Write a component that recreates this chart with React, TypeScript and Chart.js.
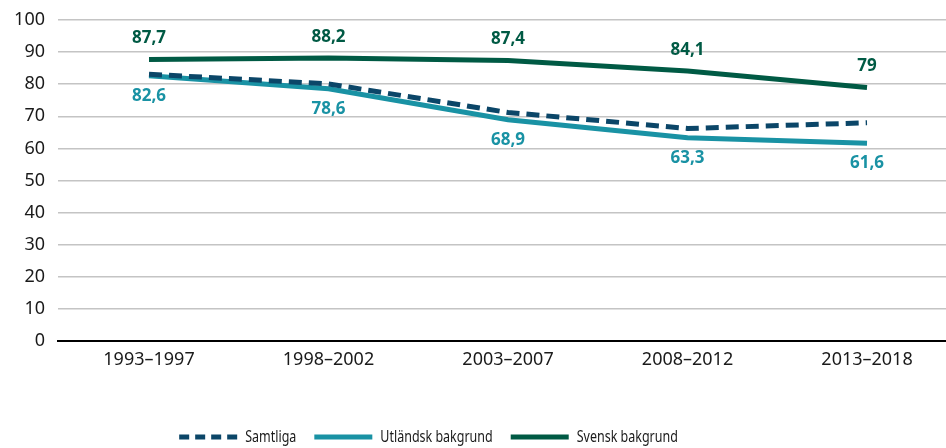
import React, { useEffect, useRef } from "react";
import { Chart, registerables } from "chart.js";

Chart.register(...registerables);

const categories = ["1993–1997", "1998–2002", "2003–2007", "2008–2012", "2013–2018"];
const samtliga = [83.1, 80.1, 71.2, 66.2, 68.0];
const utlandsk = [82.6, 78.6, 68.9, 63.3, 61.6];
const svensk = [87.7, 88.2, 87.4, 84.1, 79];
const utlandskLabels = ["82,6", "78,6", "68,9", "63,3", "61,6"];
const svenskLabels = ["87,7", "88,2", "87,4", "84,1", "79"];
const yTicks = [0, 10, 20, 30, 40, 50, 60, 70, 80, 90, 100];

const C_SAMT = "#0b4668";
const C_UTL = "#1992a4";
const C_SVE = "#005a44";
const FONT = "'Noto Sans', 'Open Sans', sans-serif";

const toXY = (arr: number[]) => arr.map((v, i) => ({ x: i, y: v }));

const labelPlugin = {
  id: "valueLabels",
  afterDatasetsDraw(chart: any) {
    const ctx = chart.ctx;
    const specs = [
      { ds: 1, labels: utlandskLabels, color: C_UTL, dy: 20 },
      { ds: 2, labels: svenskLabels, color: C_SVE, dy: -21 },
    ];
    ctx.save();
    ctx.font = `bold 17px ${FONT}`;
    ctx.textAlign = "center";
    ctx.textBaseline = "middle";
    specs.forEach((s) => {
      const meta = chart.getDatasetMeta(s.ds);
      meta.data.forEach((pt: any, i: number) => {
        ctx.fillStyle = s.color;
        ctx.fillText(s.labels[i], pt.x, pt.y + s.dy);
      });
    });
    ctx.restore();
  },
};

// Legend drawn from the datasets' own styles (condensed text emulated by horizontal scaling)
const legendPlugin = {
  id: "customLegend",
  afterDraw(chart: any) {
    const ctx = chart.ctx;
    const sx = 0.78;
    const lineW = 58;
    const gapBoxText = 8;
    const gapItems = 18;
    const cy = 437;
    ctx.save();
    ctx.font = `16px ${FONT}`;
    const items = chart.data.datasets.map((ds: any) => ({
      ds,
      tw: ctx.measureText(ds.label).width * sx,
    }));
    const total =
      items.reduce((a: number, it: any) => a + lineW + gapBoxText + it.tw, 0) +
      gapItems * (items.length - 1);
    let x = 428.5 - total / 2;
    items.forEach((it: any) => {
      ctx.save();
      ctx.strokeStyle = it.ds.borderColor;
      ctx.lineWidth = it.ds.borderWidth;
      ctx.lineCap = "butt";
      ctx.setLineDash(it.ds.borderDash ? [10, 6] : []);
      ctx.beginPath();
      ctx.moveTo(x, cy);
      ctx.lineTo(x + lineW, cy);
      ctx.stroke();
      ctx.restore();
      x += lineW + gapBoxText;
      ctx.save();
      ctx.fillStyle = "#1a1a1a";
      ctx.textBaseline = "middle";
      ctx.textAlign = "left";
      ctx.translate(x, cy);
      ctx.scale(sx, 1);
      ctx.fillText(it.ds.label, 0, 0);
      ctx.restore();
      x += it.tw + gapItems;
    });
    ctx.restore();
  },
};

export default function App() {
  const ref = useRef<HTMLCanvasElement | null>(null);
  useEffect(() => {
    if (!ref.current) return;
    const chart = new Chart(ref.current, {
      type: "line",
      data: {
        datasets: [
          {
            label: "Samtliga",
            data: toXY(samtliga),
            borderColor: C_SAMT,
            backgroundColor: C_SAMT,
            borderWidth: 5,
            borderDash: [13, 7],
            pointRadius: 0,
            tension: 0,
          },
          {
            label: "Utländsk bakgrund",
            data: toXY(utlandsk),
            borderColor: C_UTL,
            backgroundColor: C_UTL,
            borderWidth: 5,
            pointRadius: 0,
            tension: 0,
          },
          {
            label: "Svensk bakgrund",
            data: toXY(svensk),
            borderColor: C_SVE,
            backgroundColor: C_SVE,
            borderWidth: 5,
            pointRadius: 0,
            tension: 0,
          },
        ],
      },
      options: {
        responsive: false,
        animation: false,
        layout: { padding: { top: 20, left: 0, right: 0, bottom: 0 } },
        plugins: {
          tooltip: { enabled: false },
          legend: { display: false },
        },
        scales: {
          x: {
            type: "linear",
            min: -0.507,
            max: 4.44,
            grid: { display: false, drawTicks: false },
            border: { display: true, color: "#000", width: 2 },
            afterBuildTicks: (scale: any) => {
              scale.ticks = categories.map((_, i) => ({ value: i }));
            },
            afterFit: (scale: any) => {
              scale.height = 448 - 341;
            },
            ticks: {
              padding: 8,
              color: "#1a1a1a",
              maxRotation: 0,
              autoSkip: false,
              font: { family: FONT, size: 18 },
              callback: (v: any) => categories[Math.round(Number(v))] ?? "",
            },
          },
          y: {
            min: 0,
            max: 100,
            grid: {
              color: "#c4c4c4",
              lineWidth: 1.5,
              drawTicks: true,
              tickLength: 13,
              tickColor: "rgba(0,0,0,0)",
            },
            border: { display: false },
            afterBuildTicks: (scale: any) => {
              scale.ticks = yTicks.map((v) => ({ value: v }));
            },
            afterFit: (scale: any) => {
              scale.width = 58;
            },
            ticks: {
              padding: 0,
              color: "#1a1a1a",
              font: { family: FONT, size: 18 },
            },
          },
        },
      },
      plugins: [labelPlugin, legendPlugin],
    });
    return () => chart.destroy();
  }, []);
  return (
    <div style={{ position: "fixed", left: 0, top: 0, width: 946, height: 448, background: "#fff" }}>
      <canvas ref={ref} width={946} height={448} style={{ display: "block" }} />
    </div>
  );
}
